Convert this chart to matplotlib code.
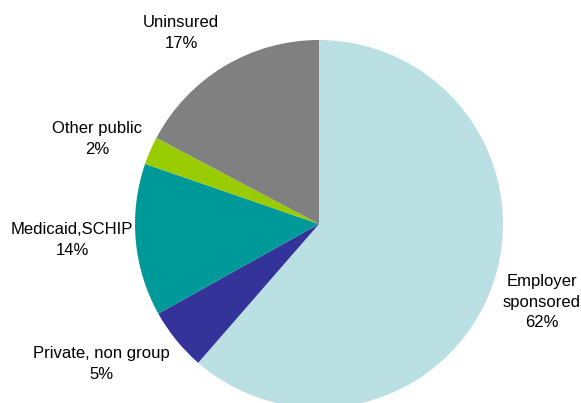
import matplotlib
matplotlib.use("Agg")
import matplotlib.pyplot as plt

categories = ["Employer\nsponsored", "Private, non group", "Medicaid,SCHIP", "Other public", "Uninsured"]
shares = [61.4, 5.5, 13.4, 2.45, 17.25]
pct_labels = ["62%", "5%", "14%", "2%", "17%"]
colors = ["#BBE0E3", "#333399", "#009999", "#99CC00", "#808080"]
label_pos = [(542, 302), (101, 364), (72, 240), (97, 139), (181, 33)]

W, H = 581, 403
fig = plt.figure(figsize=(W / 100, H / 100), dpi=100)
ax = fig.add_axes([0, 0, 1, 1])
ax.pie(shares, colors=colors, startangle=90, counterclock=False,
       center=(319, H - 224), radius=184,
       wedgeprops=dict(linewidth=0))
ax.set_xlim(0, W)
ax.set_ylim(0, H)
ax.set_aspect("equal")
ax.axis("off")

for cat, pct, (x, y) in zip(categories, pct_labels, label_pos):
    ax.text(x, H - y, f"{cat}\n{pct}", ha="center", va="center",
            fontsize=12, family="Liberation Sans", color="black",
            linespacing=1.45)

fig.savefig("out.png", dpi=100)
